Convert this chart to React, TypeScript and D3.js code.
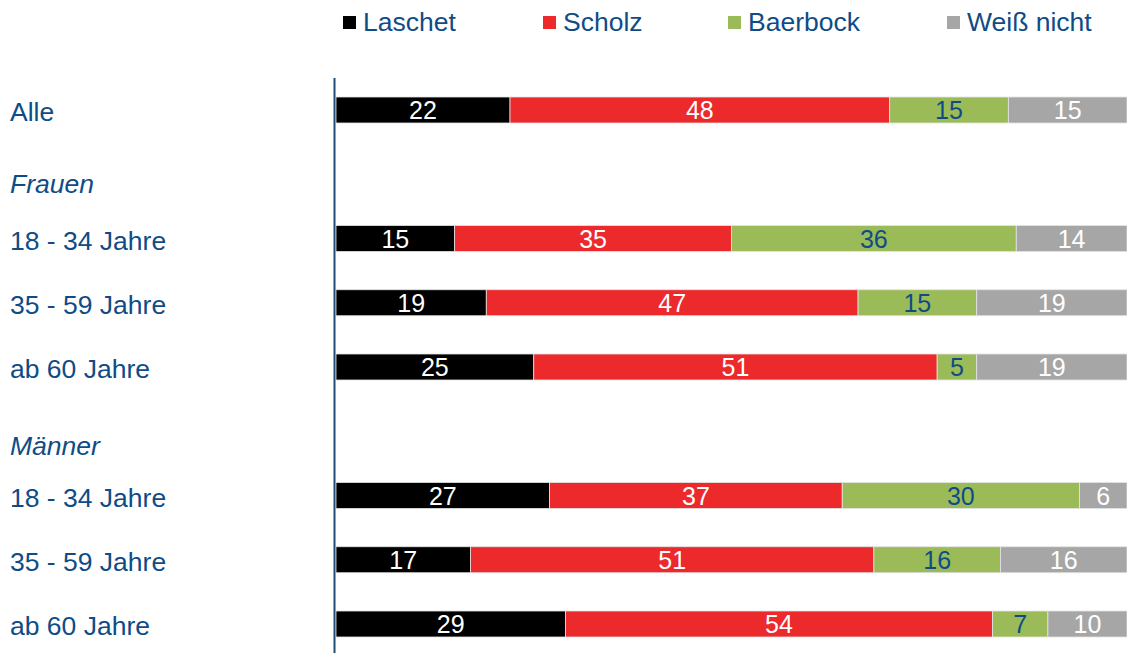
import React from "react";
import * as d3 from "d3";

const series = ["Laschet", "Scholz", "Baerbock", "Weiß nicht"];
const colors = ["#000000", "#ec292b", "#9bbb59", "#a6a6a6"];
const valueTextColors = ["#ffffff", "#ffffff", "#0f4c86", "#ffffff"];

const rowLabels = [
  "Alle",
  "18 - 34 Jahre",
  "35 - 59 Jahre",
  "ab 60 Jahre",
  "18 - 34 Jahre",
  "35 - 59 Jahre",
  "ab 60 Jahre",
];
const rowSlots = [0, 2, 3, 4, 6, 7, 8];
const headerLabels = ["Frauen", "Männer"];
const headerSlots = [1.06, 5.14];

const laschet = [22, 15, 19, 25, 27, 17, 29];
const scholz = [48, 35, 47, 51, 37, 51, 54];
const baerbock = [15, 36, 15, 5, 30, 16, 7];
const weissNicht = [15, 14, 19, 19, 6, 16, 10];

const W = 1127;
const H = 653;
const TEXT = "#0f4c86";
const FONT = "'Liberation Sans', Arial, sans-serif";

export default function App() {
  const x = d3.scaleLinear().domain([0, 100]).range([336, 1127]);
  const y = d3.scaleLinear().domain([0, 8]).range([97, 611]);
  const bh = 26;
  const values = [laschet, scholz, baerbock, weissNicht];

  const stacked = rowLabels.map((_, i) => {
    let acc = 0;
    return values.map((arr, s) => {
      const v = arr[i];
      const seg = { s, v, x0: acc, x1: acc + v };
      acc += v;
      return seg;
    });
  });

  const legendX = [343, 543, 728, 947];

  return (
    <svg
      width={W}
      height={H}
      style={{ position: "absolute", left: 0, top: 0, background: "#fff" }}
      fontFamily={FONT}
    >
      {series.map((name, s) => (
        <g key={name}>
          <rect x={legendX[s]} y={16} width={13} height={13} fill={colors[s]} />
          <text x={legendX[s] + 20} y={31} fontSize={26.5} fill={TEXT}>
            {name}
          </text>
        </g>
      ))}

      {rowLabels.map((lab, i) => (
        <text key={"l" + i} x={10} y={y(rowSlots[i]) + 24} fontSize={26.5} fill={TEXT}>
          {lab}
        </text>
      ))}
      {headerLabels.map((lab, i) => (
        <text
          key={"h" + i}
          x={10}
          y={y(headerSlots[i]) + 28}
          fontSize={26.5}
          fontStyle="italic"
          fill={TEXT}
        >
          {lab}
        </text>
      ))}

      {stacked.map((segs, i) => (
        <g key={"r" + i}>
          {segs.map((seg) => (
            <g key={seg.s}>
              <rect
                x={x(seg.x0)}
                y={y(rowSlots[i])}
                width={x(seg.x1) - x(seg.x0)}
                height={bh}
                fill={colors[seg.s]}
                stroke="#e4e4e4"
                strokeWidth={0.8}
              />
              <text
                x={(x(seg.x0) + x(seg.x1)) / 2}
                y={y(rowSlots[i]) + 22}
                fontSize={25}
                textAnchor="middle"
                fill={valueTextColors[seg.s]}
              >
                {seg.v}
              </text>
            </g>
          ))}
        </g>
      ))}

      <line x1={334.5} x2={334.5} y1={78} y2={653} stroke="#1f4e79" strokeWidth={2} />
    </svg>
  );
}
